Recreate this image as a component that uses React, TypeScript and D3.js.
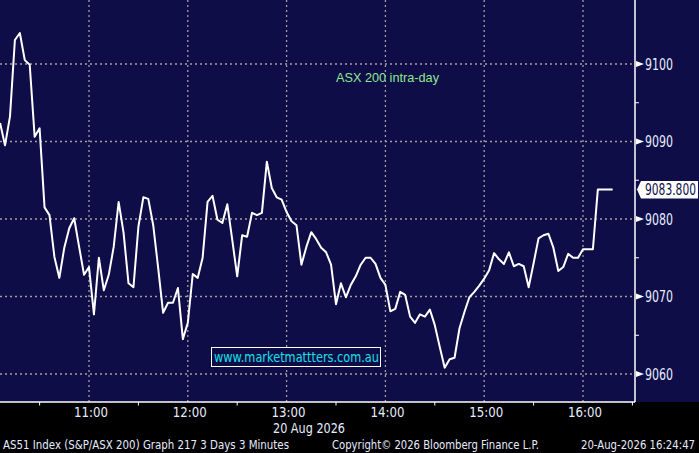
import { useEffect } from "react";
import * as d3 from "d3";

// ASX 200 intra-day, 3 minute bars starting 10:06
const startTime = new Date(2026, 7, 20, 10, 6);
const stepMinutes = 3;
const values = [
  9092.4, 9089.5, 9093.2, 9103.1, 9104.0, 9100.5, 9099.9, 9090.6, 9091.7, 9081.5,
  9080.5, 9075.1, 9072.4, 9076.3, 9078.8, 9080.1, 9076.4, 9072.8, 9073.8, 9067.7,
  9075.0, 9070.8, 9072.8, 9076.4, 9082.2, 9078.2, 9071.7, 9071.2, 9079.0, 9082.8,
  9082.6, 9079.2, 9073.7, 9067.9, 9069.2, 9069.2, 9071.1, 9064.5, 9066.6, 9072.9,
  9072.4, 9075.0, 9082.2, 9083.0, 9079.9, 9079.5, 9081.9, 9077.3, 9072.6, 9077.9,
  9077.7, 9080.8, 9080.5, 9080.8, 9087.4, 9084.0, 9082.8, 9082.5, 9080.9, 9079.7,
  9079.2, 9074.1, 9076.4, 9078.3, 9077.4, 9076.3, 9075.7, 9074.1, 9069.0, 9071.7,
  9069.9, 9071.5, 9072.6, 9074.1, 9075.0, 9075.0, 9074.2, 9072.4, 9071.5, 9068.1,
  9068.4, 9070.6, 9070.2, 9067.4, 9066.6, 9067.7, 9067.4, 9068.3, 9066.3, 9063.5,
  9060.8, 9061.9, 9062.1, 9065.9, 9068.0, 9069.9, 9070.6, 9071.4, 9072.3, 9073.4,
  9075.6, 9074.8, 9074.2, 9075.7, 9073.9, 9074.2, 9073.9, 9071.2, 9074.3, 9077.5,
  9077.9, 9078.1, 9076.3, 9073.3, 9073.8, 9075.5, 9075.0, 9075.0, 9076.1, 9076.1,
  9076.1, 9083.8, 9083.8, 9083.8, 9083.8,
];
const hourTicks = [11, 12, 13, 14, 15, 16];
const halfHourTicks = [10.5, 11.5, 12.5, 13.5, 14.5, 15.5, 16.5];
const priceTicks = [9060, 9070, 9080, 9090, 9100];
const minorPriceTicks = [9065, 9075, 9085, 9095];
const lastLabel = "9083.800";
const dateLabel = "20 Aug 2026";
const chartTitle = "ASX 200 intra-day";
const watermark = "www.marketmattters.com.au";
const footerLeft = "AS51 Index (S&P/ASX 200) Graph 217 3 Days 3 Minutes";
const footerMid = "Copyright\u00a9 2026 Bloomberg Finance L.P.";
const footerRight = "20-Aug-2026 16:24:47";

const W = 699;
const H = 453;
const plotRight = 635;
const plotBottom = 402;
const navy = "#0e0d47";
const axisText = "#e6ecff";
const narrow = "'Liberation Sans Narrow', 'Arial Narrow', 'DejaVu Sans Condensed', sans-serif";

const at = (h: number) =>
  new Date(2026, 7, 20, Math.floor(h), Math.round((h % 1) * 60));

export default function App() {
  useEffect(() => {
    document.body.style.margin = "0";
    document.body.style.background = "#000";
  }, []);

  const x = d3.scaleTime().domain([at(11), at(16)]).range([89, 583]);
  const y = d3.scaleLinear().domain([9060, 9100]).range([374, 64]);

  const pts = values.map((v, i) => ({
    t: d3.timeMinute.offset(startTime, i * stepMinutes),
    v,
  }));
  const line = d3
    .line<{ t: Date; v: number }>()
    .x((d) => x(d.t))
    .y((d) => y(d.v));

  const last = values[values.length - 1];
  const ly = y(last);

  return (
    <svg
      width={W}
      height={H}
      style={{ position: "absolute", left: 0, top: 0, display: "block" }}
    >
      <rect x={0} y={0} width={W} height={H} fill="#000" />
      <rect x={0} y={0} width={W} height={plotBottom} fill={navy} />
      <defs>
        <clipPath id="plotClip">
          <rect x={0} y={0} width={plotRight} height={plotBottom} />
        </clipPath>
      </defs>

      {/* grid */}
      <g stroke="#a0a0a0" strokeWidth={1.3} strokeDasharray="2,3">
        {hourTicks.map((h) => (
          <line key={h} x1={x(at(h))} x2={x(at(h))} y1={0} y2={plotBottom} />
        ))}
        {priceTicks.map((p) => (
          <line key={p} x1={0} x2={plotRight} y1={y(p)} y2={y(p)} />
        ))}
      </g>

      <text
        x={336}
        y={82}
        fill="#8fe88f"
        fontFamily="'Liberation Sans', Arial, sans-serif"
        fontSize={13}
        textLength={103}
        lengthAdjust="spacingAndGlyphs"
      >
        {chartTitle}
      </text>

      {/* watermark */}
      <rect
        x={211.5}
        y={347.5}
        width={169}
        height={19}
        fill={navy}
        stroke="#fff"
        strokeWidth={1}
      />
      <text
        x={214}
        y={362}
        fill="#19e0e6"
        fontFamily="'DejaVu Sans', sans-serif"
        fontSize={13.5}
        textLength={165}
        lengthAdjust="spacingAndGlyphs"
      >
        {watermark}
      </text>

      <path
        d={line(pts) ?? ""}
        fill="none"
        stroke="#fff"
        strokeWidth={2}
        strokeLinejoin="round"
        clipPath="url(#plotClip)"
      />

      {/* axes */}
      <line x1={plotRight} x2={plotRight} y1={0} y2={plotBottom} stroke="#fff" strokeWidth={1.5} />
      <line x1={0} x2={plotRight} y1={plotBottom} y2={plotBottom} stroke="#fff" strokeWidth={1.5} />
      {halfHourTicks.map((h) => (
        <line
          key={h}
          x1={x(at(h))}
          x2={x(at(h))}
          y1={plotBottom}
          y2={plotBottom + 3.5}
          stroke="#fff"
          strokeWidth={1}
        />
      ))}
      {minorPriceTicks.map((p) => (
        <line
          key={p}
          x1={plotRight}
          x2={plotRight + 4}
          y1={y(p)}
          y2={y(p)}
          stroke="#fff"
          strokeWidth={1}
        />
      ))}
      {priceTicks.map((p) => (
        <g key={p}>
          <path
            d={`M${plotRight + 1},${y(p) - 3}L${plotRight + 9},${y(p)}L${plotRight + 1},${y(p) + 3}Z`}
            fill="#fff"
          />
          <text
            x={645}
            y={y(p) + 5.5}
            fill={axisText}
            fontFamily={narrow}
            fontSize={15}
            textLength={28}
            lengthAdjust="spacingAndGlyphs"
          >
            {p}
          </text>
        </g>
      ))}

      {/* last value marker */}
      <path
        d={`M${637},${ly}L${641},${ly - 8.5}L${698},${ly - 8.5}L${698},${ly + 9}L${641},${ly + 9}Z`}
        fill="#fff"
      />
      <text
        x={645}
        y={ly + 5.5}
        fill="#0e0d47"
        fontFamily={narrow}
        fontSize={15}
        textLength={51}
        lengthAdjust="spacingAndGlyphs"
      >
        {lastLabel}
      </text>

      {/* time labels */}
      {hourTicks.map((h) => (
        <text
          key={h}
          x={x(at(h)) + 2}
          y={416.5}
          fill={axisText}
          fontFamily={narrow}
          fontSize={14}
          textAnchor="middle"
          textLength={34}
          lengthAdjust="spacingAndGlyphs"
        >
          {d3.timeFormat("%H:%M")(at(h))}
        </text>
      ))}
      <text
        x={273}
        y={432.5}
        fill={axisText}
        fontFamily={narrow}
        fontSize={14}
        textLength={72}
        lengthAdjust="spacingAndGlyphs"
      >
        {dateLabel}
      </text>

      {/* footer */}
      <g fill={axisText} fontFamily="'DejaVu Sans Condensed', 'DejaVu Sans', sans-serif" fontSize={12}>
        <text x={3} y={448.5} textLength={286} lengthAdjust="spacingAndGlyphs">
          {footerLeft}
        </text>
        <text x={332} y={448.5} textLength={207} lengthAdjust="spacingAndGlyphs">
          {footerMid}
        </text>
        <text x={581} y={448.5} textLength={114} lengthAdjust="spacingAndGlyphs">
          {footerRight}
        </text>
      </g>
    </svg>
  );
}
